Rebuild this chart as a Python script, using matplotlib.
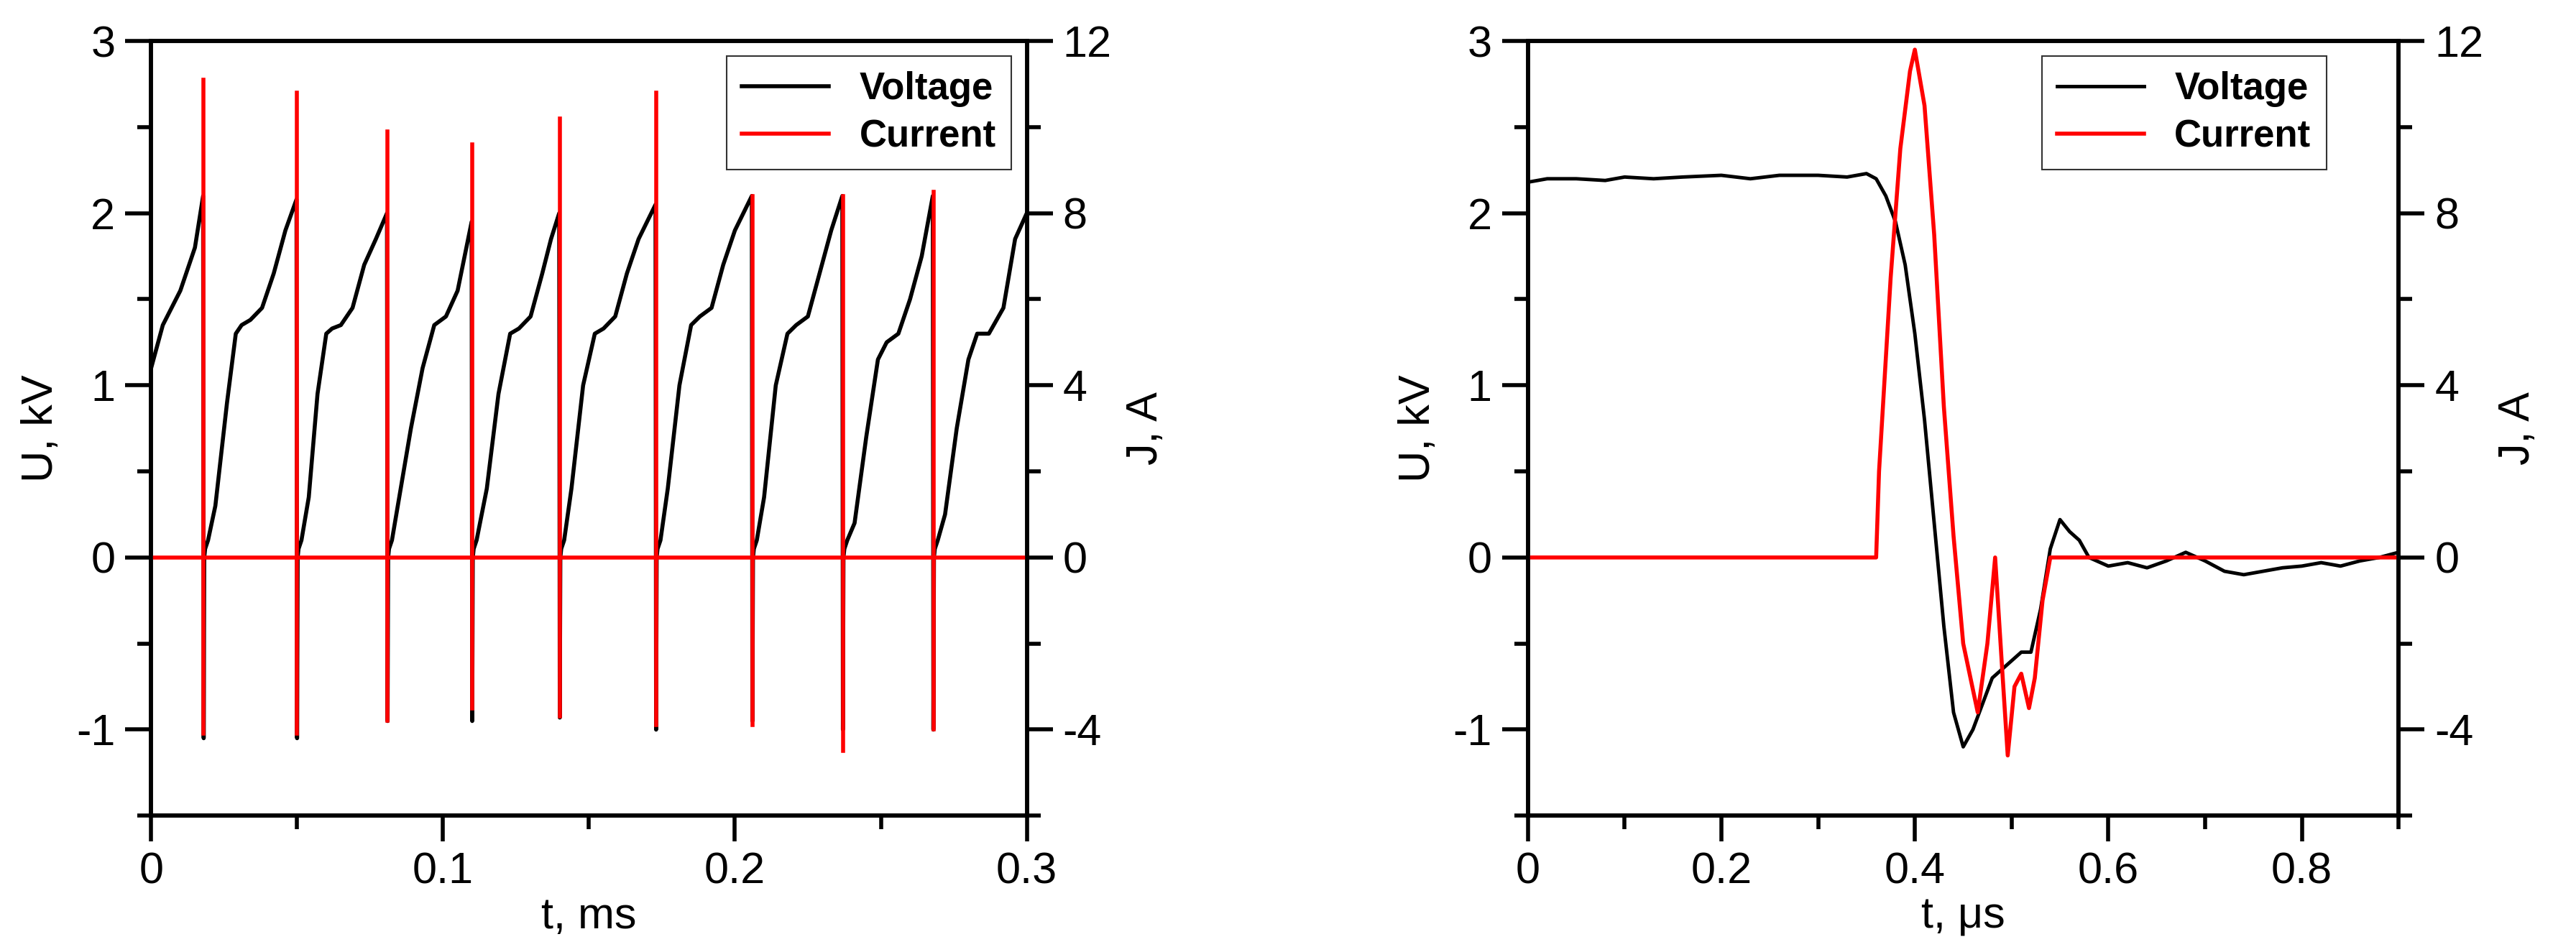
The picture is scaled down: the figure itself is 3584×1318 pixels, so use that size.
import matplotlib
matplotlib.use("agg")
import matplotlib.pyplot as plt
import matplotlib.ticker as ticker

plt.rcParams['font.family'] = ['Liberation Sans', 'DejaVu Sans']
plt.rcParams['axes.unicode_minus'] = False

# left panel: voltage waveform (t in ms, U in kV)
t_volt_a = [0.000, 0.004, 0.010, 0.015, 0.0178, 0.0180, 0.0182, 0.0185, 0.0195,
            0.022, 0.026, 0.029, 0.031, 0.034, 0.038, 0.042, 0.046, 0.0498, 0.0500, 0.0502, 0.0505, 0.0515,
            0.054, 0.057, 0.060, 0.062, 0.065, 0.069, 0.073, 0.077, 0.0808, 0.0810, 0.0812, 0.0815, 0.0825,
            0.085, 0.089, 0.093, 0.097, 0.101, 0.105, 0.1098, 0.1100, 0.1102, 0.1105, 0.1115,
            0.115, 0.119, 0.123, 0.126, 0.130, 0.134, 0.137, 0.1398, 0.1400, 0.1402, 0.1405, 0.1415,
            0.144, 0.148, 0.152, 0.155, 0.159, 0.163, 0.167, 0.1728, 0.1730, 0.1732, 0.1735, 0.1745,
            0.177, 0.181, 0.185, 0.188, 0.192, 0.196, 0.200, 0.2058, 0.2060, 0.2062, 0.2065, 0.2075,
            0.210, 0.214, 0.218, 0.221, 0.225, 0.229, 0.233, 0.2368, 0.2370, 0.2372, 0.2375, 0.2385,
            0.241, 0.245, 0.249, 0.252, 0.256, 0.260, 0.264, 0.2678, 0.2680, 0.2682, 0.2685, 0.2695,
            0.272, 0.276, 0.280, 0.283, 0.287, 0.292, 0.296, 0.300]
u_volt_a = [1.10, 1.35, 1.55, 1.80, 2.10, -1.05, 0.00, 0.05, 0.10,
            0.30, 0.90, 1.30, 1.35, 1.38, 1.45, 1.65, 1.90, 2.08, -1.05, 0.00, 0.05, 0.10,
            0.35, 0.95, 1.30, 1.33, 1.35, 1.45, 1.70, 1.85, 2.00, -0.95, 0.00, 0.05, 0.10,
            0.35, 0.75, 1.10, 1.35, 1.40, 1.55, 1.95, -0.95, 0.00, 0.05, 0.10,
            0.40, 0.95, 1.30, 1.33, 1.40, 1.65, 1.85, 2.00, -0.93, 0.00, 0.05, 0.10,
            0.40, 1.00, 1.30, 1.33, 1.40, 1.65, 1.85, 2.05, -1.00, 0.00, 0.05, 0.10,
            0.40, 1.00, 1.35, 1.40, 1.45, 1.70, 1.90, 2.10, -0.95, 0.00, 0.05, 0.10,
            0.35, 1.00, 1.30, 1.35, 1.40, 1.65, 1.90, 2.10, -1.00, 0.00, 0.05, 0.10,
            0.20, 0.70, 1.15, 1.25, 1.30, 1.50, 1.75, 2.10, -1.00, 0.00, 0.05, 0.10,
            0.25, 0.75, 1.15, 1.30, 1.30, 1.45, 1.85, 2.00]

# left panel: current spikes (t in ms, J in A)
spike_t = [0.018, 0.050, 0.081, 0.110, 0.140, 0.173, 0.206, 0.237, 0.268]
spike_max = [11.1, 10.8, 9.9, 9.6, 10.2, 10.8, 8.4, 8.4, 8.5]
spike_min = [-4.1, -4.1, -3.8, -3.5, -3.7, -3.9, -3.9, -4.5, -4.0]

# right panel (t in us)
t_volt_b = [0.00, 0.02, 0.05, 0.08, 0.10, 0.13, 0.16, 0.20, 0.23, 0.26, 0.30, 0.33, 0.35, 0.36,
            0.37, 0.38, 0.39, 0.40, 0.41, 0.42, 0.43, 0.44, 0.45, 0.46, 0.47, 0.48, 0.49, 0.50,
            0.51, 0.52, 0.53, 0.54, 0.55, 0.56, 0.57, 0.58, 0.60, 0.62, 0.64, 0.66, 0.68, 0.70,
            0.72, 0.74, 0.76, 0.78, 0.80, 0.82, 0.84, 0.86, 0.88, 0.90]
u_volt_b = [2.18, 2.20, 2.20, 2.19, 2.21, 2.20, 2.21, 2.22, 2.20, 2.22, 2.22, 2.21, 2.23, 2.20,
            2.10, 1.95, 1.70, 1.30, 0.80, 0.20, -0.40, -0.90, -1.10, -1.00, -0.85, -0.70, -0.65, -0.60,
            -0.55, -0.55, -0.30, 0.05, 0.22, 0.15, 0.10, 0.00, -0.05, -0.03, -0.06, -0.02, 0.03, -0.02,
            -0.08, -0.10, -0.08, -0.06, -0.05, -0.03, -0.05, -0.02, 0.00, 0.03]
t_curr_b = [0.00, 0.360, 0.363, 0.375, 0.385, 0.395, 0.400, 0.410, 0.420, 0.430, 0.440, 0.450,
            0.465, 0.475, 0.483, 0.490, 0.496, 0.503, 0.510, 0.518, 0.524, 0.532, 0.540, 0.90]
j_curr_b = [0.0, 0.0, 2.0, 6.5, 9.5, 11.3, 11.8, 10.5, 7.5, 3.5, 0.5, -2.0,
            -3.6, -2.0, 0.0, -2.5, -4.6, -3.0, -2.7, -3.5, -2.8, -1.0, 0.0, 0.0]

fig = plt.figure(figsize=(35.84, 13.18), dpi=100)
FS = 44


def style(ax, ax2):
    for a in (ax, ax2):
        for s in a.spines.values():
            s.set_linewidth(4)
        a.tick_params(which='major', direction='out', length=26, width=4, labelsize=FS, pad=10)
        a.tick_params(which='minor', direction='out', length=14, width=4)
    ax.set_ylim(-1.5, 3)
    ax.yaxis.set_major_locator(ticker.MultipleLocator(1))
    ax.yaxis.set_minor_locator(ticker.MultipleLocator(0.5))
    ax2.set_ylim(-6, 12)
    ax2.yaxis.set_major_locator(ticker.MultipleLocator(4))
    ax2.yaxis.set_minor_locator(ticker.MultipleLocator(2))
    ax.set_ylabel("U, kV", fontsize=FS, labelpad=14)
    ax2.set_ylabel("J, A", fontsize=FS, labelpad=14)


def legend(ax, ax2, anchor):
    h1, l1 = ax.get_legend_handles_labels()
    h2, l2 = ax2.get_legend_handles_labels()
    leg = ax2.legend(h1 + h2, l1 + l2, loc='upper right', bbox_to_anchor=anchor, frameon=True,
                     fancybox=False, edgecolor='k', prop={'weight': 'bold', 'size': 38},
                     handlelength=2.3, borderaxespad=0.3, labelspacing=0.3)
    leg.get_frame().set_linewidth(1.5)


# left panel
ax = fig.add_axes([92 / 1568, 1 - 497 / 577, 533 / 1568, 472 / 577])
ax2 = ax.twinx()
ax.plot(t_volt_a, u_volt_a, color='k', lw=4, label='Voltage')
for i in range(len(spike_t)):
    ax2.plot([spike_t[i], spike_t[i]], [spike_min[i], spike_max[i]], color='red', lw=4)
ax2.plot([0, 0.3], [0, 0], color='red', lw=4, label='Current')
ax.set_xlim(0, 0.3)
ax.xaxis.set_major_locator(ticker.MultipleLocator(0.1))
ax.xaxis.set_minor_locator(ticker.MultipleLocator(0.05))
ax.xaxis.set_major_formatter(ticker.FuncFormatter(lambda v, p: f"{v:g}"))
ax.set_xlabel("t, ms", fontsize=FS, labelpad=4)
style(ax, ax2)
legend(ax, ax2, (0.995, 0.995))

# right panel
bx = fig.add_axes([930 / 1568, 1 - 497 / 577, 530 / 1568, 472 / 577])
bx2 = bx.twinx()
bx.plot(t_volt_b, u_volt_b, color='k', lw=3.5, label='Voltage')
bx2.plot(t_curr_b, j_curr_b, color='red', lw=4, label='Current')
bx.set_xlim(0, 0.9)
bx.xaxis.set_major_locator(ticker.MultipleLocator(0.2))
bx.xaxis.set_minor_locator(ticker.MultipleLocator(0.1))
bx.xaxis.set_major_formatter(ticker.FuncFormatter(lambda v, p: f"{v:g}"))
bx.set_xlabel("t, \u03bcs", fontsize=FS, labelpad=4)
style(bx, bx2)
legend(bx, bx2, (0.93, 0.995))

fig.savefig("out.png", dpi=100)
